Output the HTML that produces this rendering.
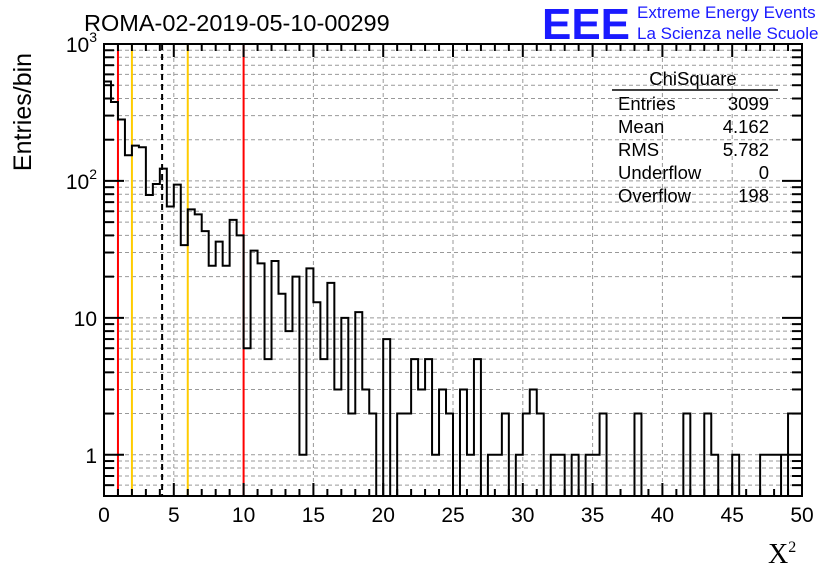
<!DOCTYPE html>
<html><head><meta charset="utf-8"><style>
body{margin:0;background:#fff;}
svg{display:block;font-family:"Liberation Sans",sans-serif;}
</style></head><body>
<svg id="c" width="836" height="572">
<text x="84" y="31" font-size="23.5">ROMA-02-2019-05-10-00299</text>
<g>
<text x="542" y="39" font-size="44" font-weight="bold" fill="#1a1aff" textLength="88" lengthAdjust="spacingAndGlyphs">EEE</text>
<text x="637" y="18" font-size="17" fill="#1a1aff">Extreme Energy Events</text>
<text x="637" y="39" font-size="17" fill="#1a1aff">La Scienza nelle Scuole</text>
</g>
<text transform="translate(31,112) rotate(-90)" font-size="25" text-anchor="middle">Entries/bin</text>
<text x="768" y="563" font-family="Liberation Serif,serif" font-size="28">X<tspan font-size="16" dy="-11">2</tspan></text>
<g id="grid"></g><g id="marks"></g><g id="hist"></g><g id="axes"></g>
<g font-size="18.5">
<text x="693" y="85" text-anchor="middle">ChiSquare</text>
<line x1="612" y1="90" x2="778" y2="90" stroke="#000" stroke-width="1.5"/>
<text x="618" y="110">Entries</text><text x="769" y="110" text-anchor="end">3099</text>
<text x="618" y="133">Mean</text><text x="769" y="133" text-anchor="end">4.162</text>
<text x="618" y="156">RMS</text><text x="769" y="156" text-anchor="end">5.782</text>
<text x="618" y="179">Underflow</text><text x="769" y="179" text-anchor="end">0</text>
<text x="618" y="202">Overflow</text><text x="769" y="202" text-anchor="end">198</text>
</g>
</svg>
<script>
const binWidth = 0.5;
const counts = [532,377,281,154,181,176,79,95,123,65,94,34,62,57,43,24,36,24,52,40,
6,31,25,5,26,15,8,20,1,23,13,5,18,3,10,2,11,3,2,0,
7,0,2,2,5,3,5,1,3,2,0,3,1,5,0,1,1,2,0,1,
2,3,2,0,1,1,0,1,0,1,1,2,0,0,0,0,2,0,0,0,
0,0,0,2,0,0,2,1,0,0,1,0,0,0,1,1,1,0,2,2];
const xTicks = [0,5,10,15,20,25,30,35,40,45,50];
const yDecades = [1,10,100,1000];
const yLabels = ["1","10","10²","10³"];
const redLines = [1,10];
const orangeLines = [2,6];
const meanLine = [4.162];

const X0=104,X1=802,Y0=496,Y1=44;
const xmin=0,xmax=50,ymin=0.5,ymax=1000;
const sx=v=>X0+(v-xmin)/(xmax-xmin)*(X1-X0);
const sy=v=>Y0-(Math.log10(Math.max(v,ymin))-Math.log10(ymin))/(Math.log10(ymax)-Math.log10(ymin))*(Y0-Y1);
const NS="http://www.w3.org/2000/svg";
function mk(tag,attrs,parent){const e=document.createElementNS(NS,tag);for(const k in attrs)e.setAttribute(k,attrs[k]);parent.appendChild(e);return e;}
const grid=document.getElementById('grid'),marks=document.getElementById('marks'),hist=document.getElementById('hist'),axes=document.getElementById('axes');
xTicks.forEach(t=>{if(t>xmin&&t<xmax){const l=mk('line',{x1:sx(t),x2:sx(t),y1:Y1,y2:Y0,stroke:'#999','stroke-dasharray':'4,3'},grid);

}});
for(let d=0.1;d<=1000;d*=10){for(let m=1;m<10;m++){const v=Math.round(d*m*10)/10;if(v<=ymin||v>=ymax)continue;const y=sy(v);
const l=mk('line',{x1:X0,x2:X1,y1:y,y2:y,stroke:'#999','stroke-dasharray':'4,3'},grid);

}}
redLines.forEach(v=>{const l=mk('line',{x1:sx(v),x2:sx(v),y1:Y1,y2:Y0,stroke:'#f00','stroke-width':2},marks);

});
orangeLines.forEach(v=>{const l=mk('line',{x1:sx(v),x2:sx(v),y1:Y1,y2:Y0,stroke:'#fc0','stroke-width':2},marks);

});
meanLine.forEach(v=>{const l=mk('line',{x1:sx(v),x2:sx(v),y1:Y1,y2:Y0,stroke:'#000','stroke-width':2,'stroke-dasharray':'6,4'},marks);

});
let d=`M${sx(0)},${Y0}`;
counts.forEach((c,i)=>{const xa=sx(i*binWidth),xb=sx((i+1)*binWidth),y=c>0?sy(c):Y0;d+=` L${xa},${y} L${xb},${y}`;});
d+=` L${sx(counts.length*binWidth)},${Y0}`;
const h=mk('path',{d:d,fill:'none',stroke:'#000','stroke-width':2},hist);


const fr=mk('rect',{x:X0,y:Y1,width:X1-X0,height:Y0-Y1,fill:'none',stroke:'#000','stroke-width':2},axes);


for(let t=0;t<=50;t++){const x=sx(t),L=(t%5==0)?13:7;
mk('line',{x1:x,x2:x,y1:Y0,y2:Y0-L,stroke:'#000','stroke-width':2},axes);
mk('line',{x1:x,x2:x,y1:Y1,y2:Y1+L,stroke:'#000','stroke-width':2},axes);}
xTicks.forEach(t=>{const tx=mk('text',{x:sx(t),y:522,'font-size':21,'text-anchor':'middle'},axes);tx.textContent=t;

});
for(let dd=0.1;dd<=1000;dd*=10){for(let m=1;m<10;m++){const v=Math.round(dd*m*10)/10;if(v<ymin||v>ymax)continue;const y=sy(v),L=m==1?20:10;
mk('line',{x1:X0,x2:X0+L,y1:y,y2:y,stroke:'#000','stroke-width':2},axes);
mk('line',{x1:X1,x2:X1-L,y1:y,y2:y,stroke:'#000','stroke-width':2},axes);}}
yDecades.forEach((v,i)=>{const tx=mk('text',{x:97,y:sy(v)+8,'font-size':21,'text-anchor':'end'},axes);
if(v>=100){tx.textContent='10';const ts=mk('tspan',{'font-size':14,dy:-10},tx);ts.textContent=String(Math.round(Math.log10(v)));}else tx.textContent=yLabels[i];

});
</script>
</body></html>
